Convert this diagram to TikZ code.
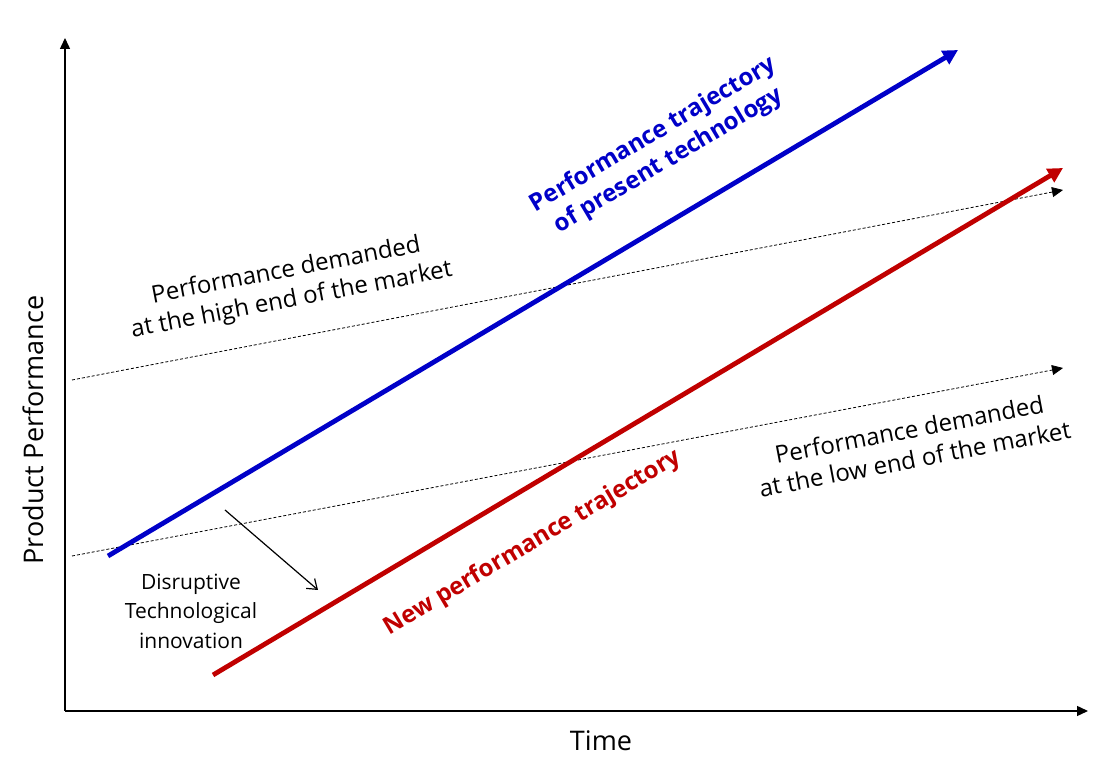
\documentclass[tikz,border=0pt]{standalone}
\usepackage{fontspec}
\setmainfont{Open Sans}
\usetikzlibrary{arrows.meta,positioning,calc}
\definecolor{trajblue}{RGB}{0,0,200}
\definecolor{trajred}{RGB}{192,0,0}

\begin{document}
\begin{tikzpicture}[
  x=1pt, y=1pt,
  axis/.style={-{Triangle[length=11pt,width=10pt]}, black, line width=1.4pt},
  traj/.style={-{Triangle[length=15pt,width=15pt]}, line width=4.8pt},
  demand/.style={-{Triangle[length=11pt,width=10pt]}, dashed, dash pattern=on 3pt off 2pt, line width=0.8pt},
  jump/.style={-{Straight Barb[length=9pt,width=13pt]}, line width=1.2pt},
  lbl/.style={font=\fontsize{24}{30}\selectfont, align=center},
  every node/.style={inner sep=0pt}
]
\useasboundingbox (0,0) rectangle (1118,770);
% axes
\coordinate (o) at (65,59);
\coordinate (ytop) at (65,732);
\coordinate (xend) at (1088,59);
\draw[axis] (o) -- (ytop);
\draw[axis] (o) -- (xend);
\node[lbl, rotate=90, font=\fontsize{27}{32}\selectfont] (ylab) at (33,340) {Product Performance};
\node[lbl, font=\fontsize{27}{32}\selectfont] (xlab) at (601,29) {Time};
% demanded performance
\coordinate (hi0) at (72,390);
\coordinate (hi1) at (1063,580);
\coordinate (lo0) at (72,214);
\coordinate (lo1) at (1063,402);
\draw[demand] (hi0) -- (hi1);
\draw[demand] (lo0) -- (lo1);
\node[lbl, rotate=10.8] (hilab) at (289,484) {Performance demanded\\at the high end of the market};
\node[lbl, rotate=10.8] (lolab) at (912,326) {Performance demanded\\at the low end of the market};
% trajectories
\coordinate (b0) at (108,214);
\coordinate (b1) at (958,720);
\coordinate (r0) at (213,95);
\coordinate (r1) at (1063,602);
\draw[traj, trajblue] (b0) -- (b1);
\draw[traj, trajred] (r0) -- (r1);
\node[lbl, rotate=30.8, text=trajblue, font=\bfseries\fontsize{24}{30}\selectfont] (blab) at (661,622) {Performance trajectory\\of present technology};
\node[lbl, rotate=30.8, text=trajred, font=\bfseries\fontsize{24}{30}\selectfont] (rlab) at (533,227) {New performance trajectory};
% disruption
\coordinate (d0) at (225,260);
\coordinate (d1) at (318,180);
\draw[jump] (d0) -- (d1);
\node[lbl, font=\fontsize{21}{29.5}\selectfont] (dlab) at (191,159) {Disruptive\\Technological\\innovation};
\end{tikzpicture}
\end{document}
